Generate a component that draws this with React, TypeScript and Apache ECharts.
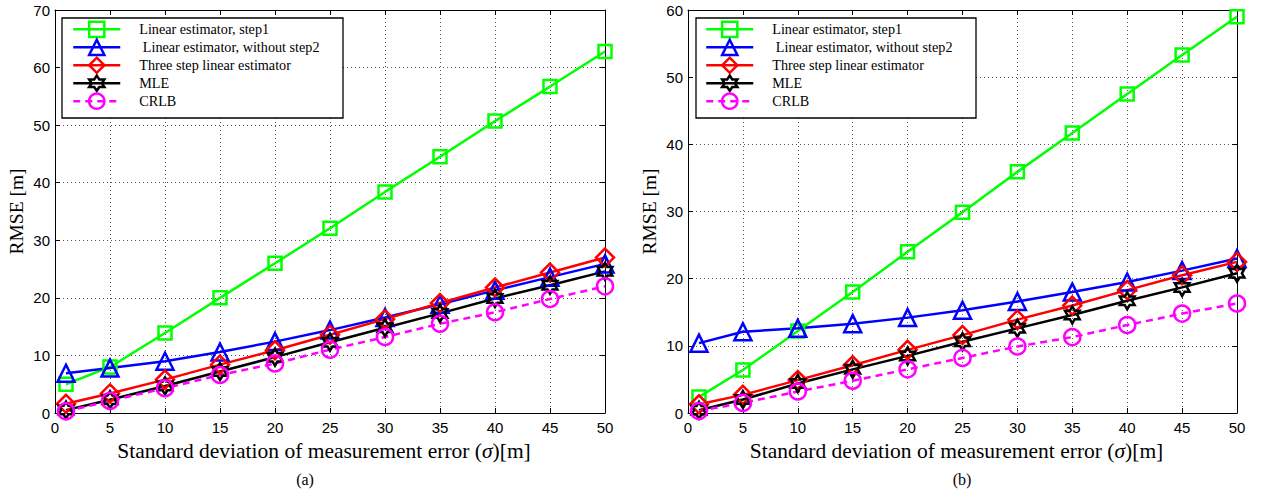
import React, { useEffect, useRef } from "react";
import * as echarts from "echarts";

// ---- data ----
const sigma = [1, 5, 10, 15, 20, 25, 30, 35, 40, 45, 50];
const seriesNames = [
  "Linear estimator, step1",
  " Linear estimator, without step2",
  "Three step linear estimator",
  "MLE",
  "CRLB",
];
// panel (a)
const aStep1 = [5.0, 8.0, 13.9, 20.0, 26.0, 32.1, 38.4, 44.5, 50.7, 56.7, 62.8];
const aWithoutStep2 = [6.9, 7.8, 9.0, 10.6, 12.4, 14.4, 16.6, 18.9, 21.3, 23.6, 25.9];
const aThreeStep = [1.6, 3.4, 5.8, 8.4, 10.9, 13.6, 16.3, 19.1, 21.8, 24.4, 27.0];
const aMLE = [0.5, 2.3, 4.7, 7.2, 9.7, 12.3, 14.8, 17.3, 19.9, 22.2, 24.6];
const aCRLB = [0.3, 2.1, 4.3, 6.6, 8.6, 11.0, 13.2, 15.5, 17.5, 19.8, 22.0];
// panel (b)
const bStep1 = [2.4, 6.4, 12.2, 18.0, 24.0, 29.9, 35.9, 41.7, 47.5, 53.3, 59.0];
const bWithoutStep2 = [10.4, 12.1, 12.6, 13.3, 14.2, 15.3, 16.6, 18.0, 19.5, 21.2, 23.0];
const bThreeStep = [1.3, 2.7, 4.9, 7.1, 9.4, 11.6, 13.9, 16.0, 18.3, 20.5, 22.5];
const bMLE = [0.4, 2.0, 4.4, 6.5, 8.5, 10.6, 12.6, 14.6, 16.7, 18.7, 20.8];
const bCRLB = [0.3, 1.5, 3.2, 4.8, 6.5, 8.2, 9.9, 11.3, 13.1, 14.8, 16.3];

const xTitle = "Standard deviation of measurement error ({i|σ})[m]";
const yTitle = "RMSE [m]";
const captions = ["(a)", "(b)"];

const HEX =
  "path://M0,-100L28.9,-50L86.6,-50L57.7,0L86.6,50L28.9,50L0,100L-28.9,50L-86.6,50L-57.7,0L-86.6,-50L-28.9,-50Z";

const styles = [
  { color: "#00ff00", symbol: "rect", size: 13, dashed: false },
  { color: "#0000ff", symbol: "triangle", size: 17, dashed: false },
  { color: "#ff0000", symbol: "diamond", size: 18, dashed: false },
  { color: "#000000", symbol: HEX, size: 17, dashed: false },
  { color: "#ff00ff", symbol: "circle", size: 16, dashed: true },
];

const SANS = "Liberation Sans";
const SERIF = "Liberation Serif";

function buildOption() {
  const grids = [
    { left: 55, right: 656, top: 10, bottom: 79 },
    { left: 688, right: 24, top: 10, bottom: 79 },
  ];
  const yMax = [70, 60];

  const xAxes: any[] = [];
  const yAxes: any[] = [];
  [0, 1].forEach((g) => {
    xAxes.push({
      type: "value",
      gridIndex: g,
      min: 0,
      max: 50,
      interval: 5,
      position: "bottom",
      axisLine: { show: true, onZero: false, lineStyle: { color: "#000", width: 1 } },
      axisTick: { show: true, inside: true, length: 5, lineStyle: { color: "#000" } },
      axisLabel: { color: "#000", fontFamily: SANS, fontSize: 15, margin: 7 },
      splitLine: { show: true, lineStyle: { color: "#555", type: [1, 3], width: 1 } },
      name: xTitle,
      nameLocation: "middle",
      nameGap: 23,
      nameTextStyle: {
        fontFamily: SERIF,
        fontSize: 21.5,
        color: "#000",
        padding: [0, 12, 0, 0],
        rich: { i: { fontFamily: SERIF, fontSize: 21.5, fontStyle: "italic", color: "#000" } },
      },
    });
    xAxes.push({
      type: "value",
      gridIndex: g,
      min: 0,
      max: 50,
      interval: 5,
      position: "top",
      axisLine: { show: true, onZero: false, lineStyle: { color: "#000", width: 1 } },
      axisTick: { show: true, inside: true, length: 5, lineStyle: { color: "#000" } },
      axisLabel: { show: false },
      splitLine: { show: false },
    });
    yAxes.push({
      type: "value",
      gridIndex: g,
      min: 0,
      max: yMax[g],
      interval: 10,
      position: "left",
      axisLine: { show: true, onZero: false, lineStyle: { color: "#000", width: 1 } },
      axisTick: { show: true, inside: true, length: 5, lineStyle: { color: "#000" } },
      axisLabel: { color: "#000", fontFamily: SANS, fontSize: 15, margin: 5 },
      splitLine: { show: true, lineStyle: { color: "#555", type: [1, 3], width: 1 } },
      name: yTitle,
      nameLocation: "middle",
      nameGap: 29,
      nameTextStyle: { fontFamily: SERIF, fontSize: 19.5, color: "#000" },
    });
    yAxes.push({
      type: "value",
      gridIndex: g,
      min: 0,
      max: yMax[g],
      interval: 10,
      position: "right",
      axisLine: { show: true, onZero: false, lineStyle: { color: "#000", width: 1 } },
      axisTick: { show: true, inside: true, length: 5, lineStyle: { color: "#000" } },
      axisLabel: { show: false },
      splitLine: { show: false },
    });
  });

  const panels = [
    [aStep1, aWithoutStep2, aThreeStep, aMLE, aCRLB],
    [bStep1, bWithoutStep2, bThreeStep, bMLE, bCRLB],
  ];

  const series: any[] = [];
  panels.forEach((vals, g) => {
    vals.forEach((arr, k) => {
      const st = styles[k];
      series.push({
        name: seriesNames[k],
        type: "line",
        xAxisIndex: g * 2,
        yAxisIndex: g * 2,
        data: sigma.map((x, i) => [x, arr[i]]),
        color: st.color,
        symbol: st.symbol,
        symbolSize: st.size,
        symbolKeepAspect: true,
        showSymbol: true,
        lineStyle: { color: st.color, width: 2.5, type: st.dashed ? [7, 5] : "solid" },
        itemStyle: { color: "rgba(255,255,255,0)", borderColor: st.color, borderWidth: 2.5 },
        emphasis: { disabled: true },
        clip: false,
      });
    });
  });

  const legendBase = {
    orient: "vertical",
    itemWidth: 47,
    itemHeight: 19,
    itemGap: 0.25,
    padding: 0,
    selectedMode: false,
    data: seriesNames,
    textStyle: { fontFamily: SERIF, fontSize: 14.2, color: "#000", padding: [0, 0, 0, 14] },
    itemStyle: { borderWidth: 2.5 },
    lineStyle: { width: 2.5 },
    z: 6,
  };

  const legends = [
    { ...legendBase, left: 72, top: 20.5 },
    { ...legendBase, left: 705, top: 20.5 },
  ];

  const graphic: any[] = [
    {
      type: "rect",
      z: 5,
      shape: { x: 62, y: 18, width: 281, height: 100 },
      style: { fill: "#fff", stroke: "#000", lineWidth: 1.3 },
    },
    {
      type: "rect",
      z: 5,
      shape: { x: 696, y: 18, width: 280, height: 100 },
      style: { fill: "#fff", stroke: "#000", lineWidth: 1.3 },
    },
    {
      type: "text",
      z: 10,
      x: 305,
      y: 479,
      style: {
        text: captions[0],
        fontFamily: SERIF,
        fontSize: 16,
        fill: "#000",
        align: "center",
        verticalAlign: "middle",
      },
    },
    {
      type: "text",
      z: 10,
      x: 962,
      y: 479,
      style: {
        text: captions[1],
        fontFamily: SERIF,
        fontSize: 16,
        fill: "#000",
        align: "center",
        verticalAlign: "middle",
      },
    },
  ];

  return {
    animation: false,
    backgroundColor: "#fff",
    grid: grids,
    xAxis: xAxes,
    yAxis: yAxes,
    legend: legends,
    series,
    graphic,
  };
}

export default function App() {
  const ref = useRef<HTMLDivElement>(null);
  useEffect(() => {
    if (!ref.current) return;
    const chart = echarts.init(ref.current, null, { renderer: "svg" });
    chart.setOption(buildOption() as any);
    return () => chart.dispose();
  }, []);
  return (
    <div
      ref={ref}
      style={{ position: "fixed", left: 0, top: 0, width: 1261, height: 492, background: "#fff" }}
    />
  );
}
